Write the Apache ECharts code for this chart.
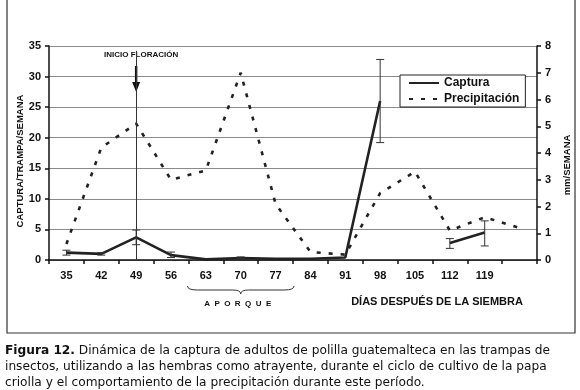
<!DOCTYPE html>
<html>
<head>
<meta charset="utf-8">
<script src="https://cdn.jsdelivr.net/npm/echarts@6/dist/echarts.min.js"></script>
<style>
  html, body { margin: 0; padding: 0; background: #fff; }
  #chart { width: 580px; height: 390px; }
</style>
</head>
<body>
<div id="chart"></div>
<script>
// días después de la siembra (la última categoría no lleva etiqueta)
const days = ["35", "42", "49", "56", "63", "70", "77", "84", "91", "98", "105", "112", "119", "126"];
const dayLabels = ["35", "42", "49", "56", "63", "70", "77", "84", "91", "98", "105", "112", "119", ""];
// captura/trampa/semana
const captura = [1.2, 1.0, 3.7, 0.8, 0.1, 0.3, 0.2, 0.2, 0.4, 26.0, null, 2.8, 4.5, null];
const capturaLow = [0.8, 0.8, 2.5, 0.4, null, 0.2, null, null, null, 19.2, null, 1.9, 2.3, null];
const capturaHigh = [1.6, 1.2, 4.9, 1.3, null, 0.5, null, null, null, 32.8, null, 3.5, 6.4, null];
// precipitación mm/semana
const precipitacion = [0.6, 4.2, 5.1, 3.0, 3.35, 7.0, 2.1, 0.3, 0.2, 2.5, 3.3, 1.1, 1.6, 1.2];
const leftTicks = [0, 35, 5];
const rightTicks = [0, 8, 1];

const errData = [];
capturaLow.forEach((v, i) => {
  if (v != null) errData.push([i, v, capturaHigh[i]]);
});

const FONT = "Liberation Sans";
const chart = echarts.init(document.getElementById("chart"));

const option = {
  animation: false,
  grid: { left: 49, right: 40, top: 46, bottom: 130, containLabel: false },
  legend: {
    left: 400,
    top: 75,
    orient: "vertical",
    itemGap: 4,
    itemWidth: 30,
    itemHeight: 10,
    padding: [2, 6, 2, 8],
    borderColor: "#222",
    borderWidth: 1,
    backgroundColor: "#fff",
    itemStyle: { opacity: 0 },
    data: ["Captura", "Precipitación"],
    textStyle: { fontFamily: FONT, fontSize: 12, fontWeight: "bold", color: "#111" }
  },
  xAxis: {
    type: "category",
    data: days,
    boundaryGap: true,
    axisLine: { lineStyle: { color: "#111", width: 1.5 } },
    axisTick: { show: true, length: 4, lineStyle: { color: "#111", width: 1.5 } },
    axisLabel: {
      interval: 0,
      margin: 10,
      fontFamily: FONT,
      fontSize: 11,
      fontWeight: "bold",
      color: "#111",
      formatter: (v, i) => dayLabels[i]
    },
    splitLine: { show: false }
  },
  yAxis: [
    {
      type: "value",
      min: leftTicks[0],
      max: leftTicks[1],
      interval: leftTicks[2],
      name: "CAPTURA/TRAMPA/SEMANA",
      nameLocation: "middle",
      nameRotate: 90,
      nameGap: 24,
      nameMoveOverlap: false,
      nameTextStyle: { fontFamily: FONT, fontSize: 9.5, fontWeight: "bold", color: "#111", padding: [0, 16, 0, 0] },
      axisLine: { show: true, lineStyle: { color: "#111", width: 1.5 } },
      axisTick: { show: true, length: 4, lineStyle: { color: "#111", width: 1.5 } },
      axisLabel: { fontFamily: FONT, fontSize: 11, fontWeight: "bold", color: "#111", margin: 8 },
      splitLine: { show: true, lineStyle: { color: "#8a8a8a", width: 1.2 } }
    },
    {
      type: "value",
      position: "right",
      min: rightTicks[0],
      max: rightTicks[1],
      interval: rightTicks[2],
      name: "mm/SEMANA",
      nameLocation: "middle",
      nameRotate: 90,
      nameGap: 25,
      nameMoveOverlap: false,
      nameTextStyle: { fontFamily: FONT, fontSize: 9.5, fontWeight: "bold", color: "#111", padding: [0, 24, 0, 0] },
      axisLine: { show: true, lineStyle: { color: "#111", width: 1.5 } },
      axisTick: { show: true, length: 4, lineStyle: { color: "#111", width: 1.5 } },
      axisLabel: { fontFamily: FONT, fontSize: 11, fontWeight: "bold", color: "#111", margin: 8 },
      splitLine: { show: false }
    }
  ],
  series: [
    {
      name: "Captura",
      type: "line",
      yAxisIndex: 0,
      data: captura,
      symbol: "none",
      connectNulls: false,
      color: "#222",
      lineStyle: { color: "#222", width: 2.6 },
      z: 4,
      markLine: {
        silent: true,
        symbol: "none",
        label: { show: false },
        lineStyle: { color: "#333", width: 1, type: "solid" },
        data: [[{ coord: ["49", 34.2] }, { coord: ["49", 0] }]]
      }
    },
    {
      name: "error",
      type: "custom",
      yAxisIndex: 0,
      data: errData,
      encode: { x: 0, y: [1, 2] },
      z: 5,
      renderItem: (params, api) => {
        const lo = api.coord([api.value(0), api.value(1)]);
        const hi = api.coord([api.value(0), api.value(2)]);
        const w = 4;
        const st = { stroke: "#333", lineWidth: 1 };
        return {
          type: "group",
          children: [
            { type: "line", shape: { x1: lo[0], y1: lo[1], x2: hi[0], y2: hi[1] }, style: st },
            { type: "line", shape: { x1: lo[0] - w, y1: lo[1], x2: lo[0] + w, y2: lo[1] }, style: st },
            { type: "line", shape: { x1: hi[0] - w, y1: hi[1], x2: hi[0] + w, y2: hi[1] }, style: st }
          ]
        };
      }
    },
    {
      name: "Precipitación",
      type: "line",
      yAxisIndex: 1,
      data: precipitacion,
      symbol: "none",
      color: "#222",
      lineStyle: { color: "#222", width: 2.6, type: [4, 8] },
      z: 3
    }
  ]
};
chart.setOption(option);

// anotaciones ancladas a las escalas
const p49 = chart.convertToPixel({ xAxisIndex: 0, yAxisIndex: 0 }, ["49", 0]);
const p56 = chart.convertToPixel({ xAxisIndex: 0 }, "56");
const p70 = chart.convertToPixel({ xAxisIndex: 0 }, "70");
const p84 = chart.convertToPixel({ xAxisIndex: 0 }, "84");
const step = p70 - p56;
const bx1 = p56 + step / 4 - 1;
const bx2 = p84 - step / 4 + 1;
const bc = p70;
const by = 290;
const ax = p49[0];
const braceStyle = { fill: "none", stroke: "#333", lineWidth: 1 };

chart.setOption({
  graphic: [
    {
      type: "rect",
      shape: { x: 7, y: -5, width: 568, height: 338 },
      style: { fill: "none", stroke: "#333", lineWidth: 1.2 },
      silent: true
    },
    {
      type: "text",
      x: ax + 5,
      y: 55,
      style: {
        text: "INICIO FLORACIÓN",
        font: "bold 8px " + FONT,
        fill: "#111",
        align: "center",
        verticalAlign: "middle"
      }
    },
    {
      type: "polygon",
      shape: {
        points: [
          [ax - 1.2, 66], [ax + 1.2, 66], [ax + 1.2, 82], [ax + 4, 82],
          [ax, 92], [ax - 4, 82], [ax - 1.2, 82]
        ]
      },
      style: { fill: "#111" }
    },
    {
      type: "bezierCurve",
      shape: { x1: bx1, y1: by - 4, cpx1: bx1, cpy1: by, x2: bx1 + 10, y2: by },
      style: braceStyle
    },
    {
      type: "line",
      shape: { x1: bx1 + 10, y1: by, x2: bc - 8, y2: by },
      style: braceStyle
    },
    {
      type: "bezierCurve",
      shape: { x1: bc - 8, y1: by, cpx1: bc, cpy1: by, x2: bc, y2: by + 4 },
      style: braceStyle
    },
    {
      type: "bezierCurve",
      shape: { x1: bc, y1: by + 4, cpx1: bc, cpy1: by, x2: bc + 8, y2: by },
      style: braceStyle
    },
    {
      type: "line",
      shape: { x1: bc + 8, y1: by, x2: bx2 - 10, y2: by },
      style: braceStyle
    },
    {
      type: "bezierCurve",
      shape: { x1: bx2 - 10, y1: by, cpx1: bx2, cpy1: by, x2: bx2, y2: by - 4 },
      style: braceStyle
    },
    {
      type: "text",
      x: bc - 3,
      y: 304,
      style: {
        text: "A  P  O  R  Q  U  E",
        font: "bold 8px " + FONT,
        fill: "#111",
        align: "center",
        verticalAlign: "middle"
      }
    },
    {
      type: "text",
      x: 437,
      y: 302,
      style: {
        text: "DÍAS DESPUÉS DE LA SIEMBRA",
        font: "bold 11px " + FONT,
        fill: "#111",
        align: "center",
        verticalAlign: "middle"
      }
    },
    {
      type: "text",
      x: 5,
      y: 343,
      style: {
        text:
          "{b|Figura 12.} Dinámica de la captura de adultos de polilla guatemalteca en las trampas de\n" +
          "insectos, utilizando a las hembras como atrayente, durante el ciclo de cultivo de la papa\n" +
          "criolla y el comportamiento de la precipitación durante este período.",
        font: "12.2px 'DejaVu Sans'",
        fill: "#111",
        lineHeight: 16,
        rich: {
          b: { font: "bold 12.2px 'DejaVu Sans'", fill: "#111", lineHeight: 16 }
        }
      }
    }
  ]
});
</script>
</body>
</html>
